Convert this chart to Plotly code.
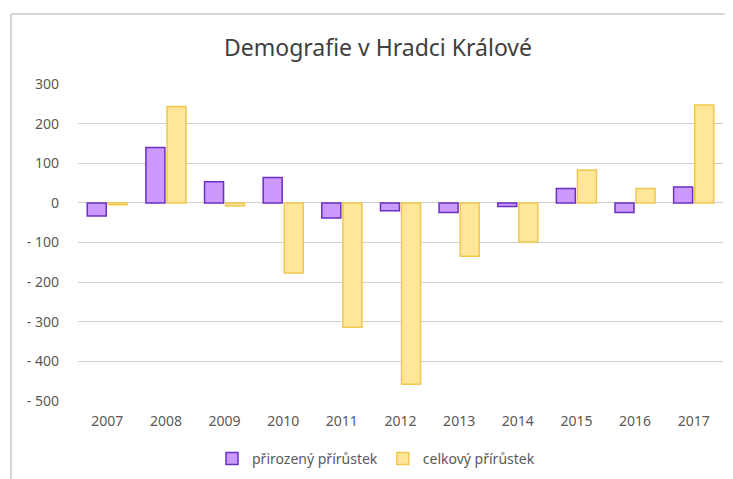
import plotly.graph_objects as go

years = ["2007", "2008", "2009", "2010", "2011", "2012", "2013", "2014", "2015", "2016", "2017"]
prirozeny = [-33, 140, 53, 64, -38, -20, -24, -9, 36, -24, 40]
celkovy = [-5, 243, -8, -177, -314, -458, -135, -99, 83, 36, 247]
tick_vals = [300, 200, 100, 0, -100, -200, -300, -400, -500]
tick_text = ["300", "200", "100", "0", "- 100", "- 200", "- 300", "- 400", "- 500"]

FONT = "Noto Sans"
TXT = "#595959"

# page offset (body margin) compensation
OFF = 8
W, H = 733 - OFF, 479 - OFF
L, R, T, B = 78 - OFF, 10, 84 - OFF, 78
PW, PH = W - L - R, H - T - B

fig = go.Figure()
fig.add_trace(go.Bar(
    x=years, y=prirozeny, name="přirozený přírůstek",
    marker=dict(color="#CC99FF", line=dict(color="#6A2FC4", width=1.5)),
))
fig.add_trace(go.Bar(
    x=years, y=celkovy, name="celkový přírůstek",
    marker=dict(color="#FFE699", line=dict(color="#F0C850", width=1.5)),
))

fig.update_layout(
    width=W, height=H,
    margin=dict(l=L, r=R, t=T, b=B, autoexpand=False),
    paper_bgcolor="white", plot_bgcolor="white",
    barmode="group", bargap=0.28, bargroupgap=0.1,
    title=dict(text="Demografie v Hradci Králové", x=(378 - 78) / 645, xref="paper", xanchor="center",
               y=1 - (48 - OFF) / H, yref="container", yanchor="middle",
               font=dict(family=FONT, size=23, color="#404040")),
    font=dict(family=FONT, size=14, color=TXT),
    showlegend=True,
    legend=dict(orientation="h", x=0.462, xanchor="center", y=(393 - 451) / PH, yanchor="middle",
                font=dict(family=FONT, size=14, color=TXT), itemwidth=30,
                traceorder="normal"),
    xaxis=dict(showgrid=False, zeroline=False, showline=False, ticks="",
               ticklabelstandoff=10,
               tickfont=dict(family=FONT, size=14, color=TXT)),
    yaxis=dict(range=[-500, 300], tickvals=tick_vals, ticktext=tick_text,
               showgrid=True, gridcolor="#D0D0D0", gridwidth=1.2,
               zeroline=True, zerolinecolor="#D0D0D0", zerolinewidth=1.2,
               showline=False, ticks="", ticklabelstandoff=18,
               tickfont=dict(family=FONT, size=14, color=TXT)),
    shapes=[
        dict(type="line", xref="paper", yref="paper", x0=(3 - L) / PW, x1=(W - 1 - L) / PW,
             y0=(PH + T - 6) / PH, y1=(PH + T - 6) / PH, line=dict(color="#C8C8C8", width=1.5)),
        dict(type="line", xref="paper", yref="paper", x0=(3 - L) / PW, x1=(3 - L) / PW,
             y0=(PH + T - 6) / PH, y1=-B / PH, line=dict(color="#C8C8C8", width=1.5)),
    ],
)

fig.write_html("out.html", config={"displayModeBar": False})
